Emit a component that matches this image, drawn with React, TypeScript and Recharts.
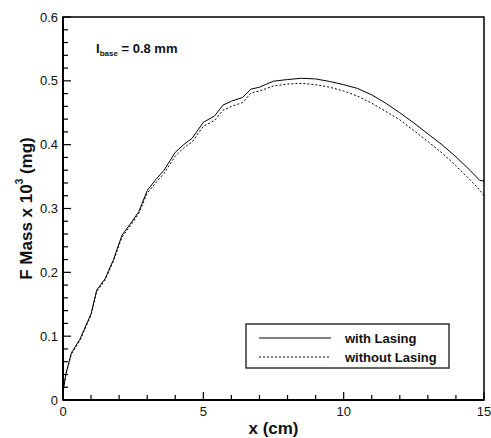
import React from 'react';
import { LineChart, Line, XAxis, YAxis, ReferenceArea, Legend } from 'recharts';

// x positions (cm), shared by both curves
const xs = [0, 0.1, 0.3, 0.6, 1.0, 1.2, 1.5, 1.8, 2.1, 2.4, 2.7, 3.0, 3.3, 3.6, 4.0, 4.3, 4.6, 5.0, 5.4, 5.7, 6.0, 6.4, 6.7, 7.0, 7.5, 8.0, 8.5, 9.0, 9.5, 10, 10.5, 11, 11.5, 12, 12.5, 13, 13.5, 14, 14.5, 14.85, 15];

// F mass x 10^3 (mg)
const withLasing = [0.012, 0.04, 0.074, 0.095, 0.135, 0.172, 0.19, 0.22, 0.258, 0.276, 0.295, 0.328, 0.345, 0.36, 0.388, 0.4, 0.41, 0.435, 0.445, 0.462, 0.468, 0.474, 0.487, 0.49, 0.4995, 0.502, 0.504, 0.503, 0.499, 0.494, 0.488, 0.478, 0.465, 0.45, 0.434, 0.417, 0.4, 0.381, 0.36, 0.344, 0.343];
const withoutLasing = [0.012, 0.04, 0.072, 0.093, 0.133, 0.17, 0.188, 0.218, 0.255, 0.273, 0.292, 0.324, 0.34, 0.355, 0.382, 0.395, 0.404, 0.429, 0.438, 0.454, 0.46, 0.466, 0.481, 0.484, 0.492, 0.495, 0.496, 0.494, 0.49, 0.484, 0.476, 0.465, 0.452, 0.439, 0.422, 0.405, 0.387, 0.367, 0.345, 0.329, 0.32];

const xTicks = [0, 1, 2, 3, 4, 5, 6, 7, 8, 9, 10, 11, 12, 13, 14, 15];
const xLabels = [0, 5, 10, 15];
const yTicks = [0, 0.02, 0.04, 0.06, 0.08, 0.1, 0.12, 0.14, 0.16, 0.18, 0.2, 0.22, 0.24, 0.26, 0.28, 0.3, 0.32, 0.34, 0.36, 0.38, 0.4, 0.42, 0.44, 0.46, 0.48, 0.5, 0.52, 0.54, 0.56, 0.58, 0.6];
const yLabels = ['0', '0.1', '0.2', '0.3', '0.4', '0.5', '0.6'];

const rows = xs.map((x, i) => ({ x, withL: withLasing[i], withoutL: withoutLasing[i] }));

const FONT = '"Liberation Sans", Arial, Helvetica, sans-serif';

const XTick = (props: any) => {
  const { x, y, payload } = props;
  const major = xLabels.includes(payload.value);
  return (
    <g>
      <line x1={x} y1={y} x2={x} y2={y - (major ? 8 : 5)} stroke="#000" strokeWidth={1.2} />
      {major && (
        <text x={x} y={y + 16} textAnchor="middle" fontSize={13} fontFamily={FONT} fill="#111">
          {payload.value}
        </text>
      )}
    </g>
  );
};

const YTick = (props: any) => {
  const { x, y, payload } = props;
  const label = payload.value === 0 ? '0' : payload.value.toFixed(1);
  const major = yLabels.includes(label) && Math.abs(payload.value * 10 - Math.round(payload.value * 10)) < 1e-6;
  return (
    <g>
      <line x1={x} y1={y} x2={x + (major ? 8 : 5)} y2={y} stroke="#000" strokeWidth={1.2} />
      {major && (
        <text x={x - 5} y={y + 4.5} textAnchor="end" fontSize={13} fontFamily={FONT} fill="#111">
          {label}
        </text>
      )}
    </g>
  );
};

const LegendBox = (props: any) => {
  const items = props.payload || [];
  return (
    <svg width={205} height={46} style={{ display: 'block' }}>
      <rect x={1} y={1} width={203} height={44} fill="#fff" stroke="#333" strokeWidth={1.5} />
      {items.map((it: any, i: number) => (
        <g key={it.value}>
          <line
            x1={14}
            x2={86}
            y1={15 + i * 19}
            y2={15 + i * 19}
            stroke="#000"
            strokeWidth={1}
            strokeDasharray={i === 1 ? '2 2' : undefined}
          />
          <text x={100} y={19.5 + i * 19} fontSize={13} fontWeight="bold" fontFamily={FONT} fill="#111">
            {it.value}
          </text>
        </g>
      ))}
    </svg>
  );
};

export default function App() {
  return (
    <div style={{ position: 'relative', width: 491, height: 438, background: '#fff' }}>
      <style>{`body{margin:0}`}</style>
      <LineChart width={491} height={438} data={rows} margin={{ top: 17, right: 7, bottom: 0, left: 0 }}>
        <XAxis
          dataKey="x"
          type="number"
          domain={[0, 15]}
          ticks={xTicks}
          interval={0}
          tick={<XTick />}
          tickLine={false}
          tickSize={0}
          tickMargin={0}
          height={38}
          axisLine={{ stroke: '#000', strokeWidth: 2 }}
        />
        <YAxis
          type="number"
          domain={[0, 0.6]}
          ticks={yTicks}
          interval={0}
          tick={<YTick />}
          tickLine={false}
          tickSize={0}
          tickMargin={0}
          width={63}
          axisLine={{ stroke: '#000', strokeWidth: 2 }}
        />
        <ReferenceArea x1={0} x2={15} y1={0} y2={0.6} fill="none" stroke="#000" strokeWidth={1.5} ifOverflow="visible" />
        <Line
          type="linear"
          dataKey="withL"
          name="with Lasing"
          stroke="#000"
          strokeWidth={1}
          dot={false}
          isAnimationActive={false}
        />
        <Line
          type="linear"
          dataKey="withoutL"
          name="without Lasing"
          stroke="#000"
          strokeWidth={1}
          strokeDasharray="2 2"
          dot={false}
          isAnimationActive={false}
        />
        <Legend
          layout="vertical"
          align="center"
          verticalAlign="middle"
          content={<LegendBox />}
          wrapperStyle={{ position: 'absolute', left: 245, top: 323, width: 205, height: 46 }}
        />
        <text x={96} y={53} fontSize={13} fontWeight="bold" fontFamily={FONT} fill="#111">
          I<tspan fontSize={8} dy={3}>base</tspan>
          <tspan dy={-3}> = 0.8 mm</tspan>
        </text>
        <text
          x={26}
          y={208.5}
          transform="rotate(-90 26 208.5)"
          textAnchor="middle"
          dominantBaseline="central"
          fontSize={17}
          fontWeight="bold"
          fontFamily={FONT}
          fill="#111"
        >
          F Mass x 10<tspan fontSize={10} dy={-7}>3</tspan>
          <tspan dy={7}> (mg)</tspan>
        </text>
        <text x={273.5} y={434} textAnchor="middle" fontSize={17} fontWeight="bold" fontFamily={FONT} fill="#111">
          x (cm)
        </text>
      </LineChart>
    </div>
  );
}
